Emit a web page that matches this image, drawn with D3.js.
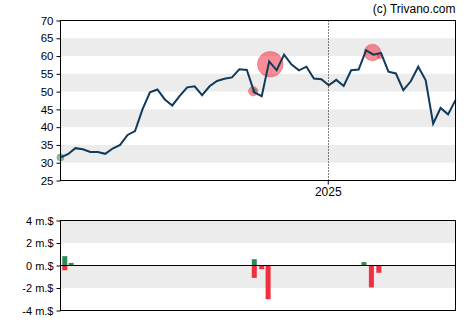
<!DOCTYPE html>
<html>
<head>
<meta charset="utf-8">
<script src="https://cdn.jsdelivr.net/npm/d3@7"></script>
<style>
  html, body { margin: 0; padding: 0; background: #fff; }
  svg { display: block; font-family: "Liberation Sans", Arial, sans-serif; }
</style>
</head>
<body>
<svg id="chart" width="470" height="325"></svg>
<script>
// Weekly closing prices, starting 2024-04-25
const startDate = "2024-04-25";
const prices = [
  31.5, 32.4, 34.1, 33.8, 33.0, 33.0, 32.5, 34.0, 35.0, 37.8,
  38.9, 45.0, 49.8, 50.6, 47.8, 46.1, 48.8, 51.2, 51.5, 49.0,
  51.5, 53.0, 53.6, 54.0, 56.3, 56.1, 49.8, 48.7, 58.5, 56.0,
  60.4, 57.6, 56.0, 57.0, 53.7, 53.5, 51.8, 53.3, 51.6, 56.0,
  56.2, 61.6, 60.4, 60.9, 55.6, 55.1, 50.4, 52.9, 57.0, 53.2,
  41.0, 45.4, 43.6, 47.6
];

// Individual insider trades (m.$, positive = buy, negative = sell)
const tradeDates  = ["2024-04-25", "2024-10-23", "2024-10-24", "2024-11-08", "2025-02-06", "2025-02-12", "2025-02-19"];
const tradePrices = [31.5, 50.1, 50.2, 57.7, 61.6, 61.0, 60.0];
const tradeValues = [0.83, -1.1, 0.56, -3.0, 0.3, -1.95, -0.65];

// Weekly insider flow bars (m.$)
const flowDates = ["2024-04-29", "2024-05-05", "2024-10-24", "2024-10-31", "2024-11-06", "2025-02-04", "2025-02-11", "2025-02-18"];
const flowBuys  = [0.83, 0.23, 0.56, 0, 0, 0.3, 0, 0];
const flowSells = [-0.42, 0, -1.1, -0.33, -3.0, 0, -1.95, -0.65];

const priceTicks = [25, 30, 35, 40, 45, 50, 55, 60, 65, 70];
const flowTicks = [-4, -2, 0, 2, 4];
const flowTickLabels = ["-4 m.$", "-2 m.$", "0 m.$", "2 m.$", "4 m.$"];
const yearMark = "2025-01-01";
const yearLabel = "2025";
const credit = "(c) Trivano.com";

const parse = d3.utcParse("%Y-%m-%d");
const t0 = parse(startDate);
const series = prices.map((v, i) => ({ date: d3.utcDay.offset(t0, i * 7), value: v }));
const trades = tradeDates.map((d, i) => ({ date: parse(d), price: tradePrices[i], value: tradeValues[i] }));
const flows = flowDates.map((d, i) => ({ date: parse(d), buy: flowBuys[i], sell: flowSells[i] }));

const svg = d3.select("#chart");
const L = 60.5, R = 455.5;
const top1 = 20.5, bot1 = 180.5;
const top2 = 220.5, bot2 = 310.5;

const x = d3.scaleUtc().domain(d3.extent(series, d => d.date)).range([L, R]);
const y = d3.scaleLinear().domain([25, 70]).range([bot1, top1]);
const y2 = d3.scaleLinear().domain([-4, 4]).range([bot2, top2]);
const r = d3.scaleLinear().domain([0, 3]).range([0, 12.8]);

const GRAY = "#ececec", RED = "#f0303f", GREEN = "#2e8b57", LINE = "#0f3a5b";

// ---- price panel ----
const bands = [[30, 35], [40, 45], [50, 55], [60, 65]];
svg.append("g").selectAll("rect").data(bands).join("rect")
  .attr("x", L).attr("width", R - L)
  .attr("y", d => y(d[1])).attr("height", d => y(d[0]) - y(d[1]))
  .attr("fill", GRAY);

// year separator
svg.append("line")
  .attr("x1", Math.round(x(parse(yearMark))) + 0.5).attr("x2", Math.round(x(parse(yearMark))) + 0.5)
  .attr("y1", top1).attr("y2", bot1)
  .attr("stroke", "#000").attr("stroke-width", 1).attr("stroke-dasharray", "1,2");

// trade bubbles
svg.append("g").selectAll("circle").data(trades.slice().sort((a, b) => Math.abs(b.value) - Math.abs(a.value))).join("circle")
  .attr("cx", d => x(d.date)).attr("cy", d => y(d.price))
  .attr("r", d => r(Math.abs(d.value)))
  .attr("fill", d => d.value > 0 ? GREEN : RED)
  .attr("fill-opacity", 0.55)
  .attr("stroke", d => d.value > 0 ? GREEN : RED)
  .attr("stroke-opacity", 0.35);

// price line
svg.append("path").datum(series)
  .attr("d", d3.line().x(d => x(d.date)).y(d => y(d.value)))
  .attr("fill", "none").attr("stroke", LINE).attr("stroke-width", 2)
  .attr("stroke-linejoin", "miter");

// frame
svg.append("rect").attr("x", L).attr("y", top1).attr("width", R - L).attr("height", bot1 - top1)
  .attr("fill", "none").attr("stroke", "#000").attr("stroke-width", 1);

const yAxis = svg.append("g").attr("transform", `translate(${L},0)`)
  .call(d3.axisLeft(y).tickValues(priceTicks).tickSize(4).tickPadding(3).tickFormat(d3.format("d")));
yAxis.select(".domain").remove();
yAxis.selectAll("text").attr("font-size", 11.5).attr("fill", "#000").attr("font-family", "Liberation Sans, Arial, sans-serif");
yAxis.selectAll("line").attr("stroke", "#000");

const xAxis = svg.append("g").attr("transform", `translate(0,${bot1})`)
  .call(d3.axisBottom(x).tickValues([parse(yearMark)]).tickSize(4).tickPadding(3).tickFormat(() => yearLabel));
xAxis.select(".domain").remove();
xAxis.selectAll("text").attr("font-size", 12).attr("fill", "#000").attr("font-family", "Liberation Sans, Arial, sans-serif");
xAxis.selectAll("line").attr("stroke", "#000");

svg.append("text").attr("x", R).attr("y", 13).attr("text-anchor", "end")
  .attr("font-size", 12).attr("fill", "#000").text(credit);

// ---- insider flow panel ----
const bands2 = [[2, 4], [-2, 0]];
svg.append("g").selectAll("rect").data(bands2).join("rect")
  .attr("x", L).attr("width", R - L)
  .attr("y", d => y2(d[1])).attr("height", d => y2(d[0]) - y2(d[1]))
  .attr("fill", GRAY);

const barW = 5;
svg.append("g").selectAll("rect").data(flows.filter(d => d.buy > 0)).join("rect")
  .attr("x", d => x(d.date) - barW / 2).attr("width", barW)
  .attr("y", d => y2(d.buy)).attr("height", d => y2(0) - y2(d.buy))
  .attr("fill", GREEN);
svg.append("g").selectAll("rect").data(flows.filter(d => d.sell < 0)).join("rect")
  .attr("x", d => x(d.date) - barW / 2).attr("width", barW)
  .attr("y", y2(0)).attr("height", d => y2(d.sell) - y2(0))
  .attr("fill", RED);

svg.append("line").attr("x1", L).attr("x2", R).attr("y1", y2(0)).attr("y2", y2(0))
  .attr("stroke", "#000").attr("stroke-width", 1);
svg.append("rect").attr("x", L).attr("y", top2).attr("width", R - L).attr("height", bot2 - top2)
  .attr("fill", "none").attr("stroke", "#000").attr("stroke-width", 1);

const yAxis2 = svg.append("g").attr("transform", `translate(${L},0)`)
  .call(d3.axisLeft(y2).tickValues(flowTicks).tickSize(4).tickPadding(3).tickFormat((d, i) => flowTickLabels[i]));
yAxis2.select(".domain").remove();
yAxis2.selectAll("text").attr("font-size", 11).attr("fill", "#000").attr("font-family", "Liberation Sans, Arial, sans-serif");
yAxis2.selectAll("line").attr("stroke", "#000");
</script>
</body>
</html>
